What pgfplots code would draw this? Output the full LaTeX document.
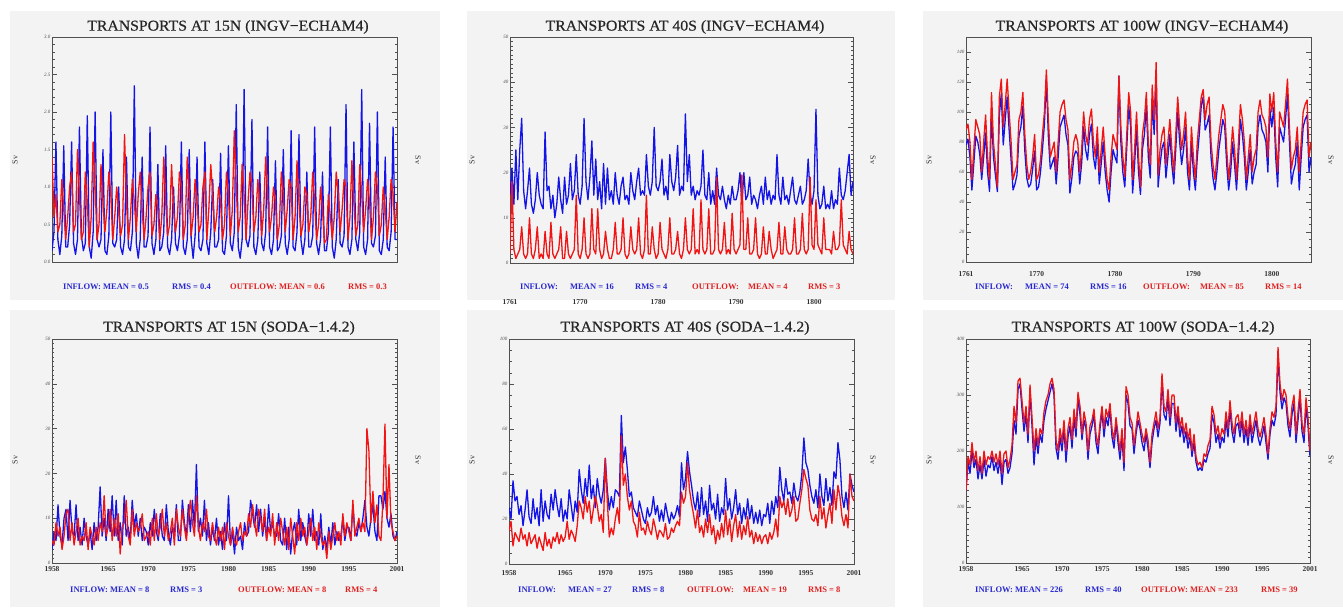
\documentclass[border=0pt]{standalone}
\usepackage{fontspec}
\setmainfont{Liberation Serif}
\newfontfamily\titlefont[FakeStretch=1.05,FakeBold=0.5]{Liberation Serif}
\usepackage{pgfplots}
\usepackage{pgfplotstable}
\pgfplotsset{compat=1.18}
\definecolor{bgc}{HTML}{F3F3F3}
\definecolor{inb}{HTML}{1414E6}
\definecolor{outr}{HTML}{F01414}
\definecolor{labb}{HTML}{2828D0}
\definecolor{labr}{HTML}{E02020}
\definecolor{axframe}{HTML}{505050}

\pgfplotsset{
 panel/.style={
  scale only axis, width=345bp, height=225bp, anchor=south west,
  axis line style={draw=axframe, line width=0.6bp},
  tick align=inside, ytick pos=both,
  major tick length=5bp, minor tick length=2.5bp,
  every tick/.style={axframe, line width=0.4bp},
  every x tick/.style={draw=none},
  yticklabel style={font=\fontsize{5}{5}\selectfont\itshape, text=black!70, inner sep=1.5bp},
  xticklabel style={font=\fontsize{7.5}{7.5}\selectfont\bfseries, text=black!80},
  scaled ticks=false,
  clip=true,
 },
 inl/.style={inb, line width=1.3bp, line join=round, no markers},
 outl/.style={outr, line width=1.3bp, line join=round, no markers},
}

% ---------- data: b = inflow, r = outflow, 4 values per year ----------
\pgfplotstableread[row sep=\\]{b r\\
0.15 1.4\\ 0.4 0.6\\ 1.6 0.9\\ 0.3 0.4\\
0.1 0.5\\ 0.35 1.1\\ 1.55 0.7\\ 0.2 0.3\\
0.2 0.6\\ 0.5 1.0\\ 1.6 1.2\\ 0.25 0.4\\
0.1 0.5\\ 0.3 1.5\\ 1.8 0.9\\ 0.35 0.3\\
0.15 0.4\\ 0.25 1.2\\ 1.95 0.8\\ 0.2 0.2\\
0.05 0.6\\ 0.4 1.6\\ 2.0 1.0\\ 0.3 0.3\\
0.2 0.5\\ 0.3 1.3\\ 1.5 0.8\\ 0.15 0.4\\
0.1 0.7\\ 0.35 1.2\\ 2.0 0.9\\ 0.25 0.3\\
0.2 0.6\\ 0.3 1.0\\ 1.0 0.7\\ 0.2 0.35\\
0.1 0.5\\ 0.3 1.7\\ 1.4 0.8\\ 0.2 0.3\\
0.15 0.6\\ 0.4 1.1\\ 2.35 0.8\\ 0.25 0.4\\
0.05 0.9\\ 0.3 1.2\\ 1.4 0.7\\ 0.2 0.3\\
0.2 0.6\\ 0.35 1.0\\ 1.8 1.2\\ 0.25 0.35\\
0.1 0.5\\ 0.3 0.9\\ 1.3 0.7\\ 0.15 0.3\\
0.2 0.6\\ 0.4 1.4\\ 1.55 0.8\\ 0.2 0.35\\
0.1 0.5\\ 0.3 1.3\\ 1.0 0.7\\ 0.25 0.4\\
0.15 0.6\\ 0.35 1.2\\ 1.6 1.0\\ 0.2 0.3\\
0.1 0.5\\ 0.3 1.4\\ 1.5 0.9\\ 0.3 0.35\\
0.05 0.6\\ 0.35 1.1\\ 1.4 0.8\\ 0.2 0.4\\
0.15 0.5\\ 0.3 1.0\\ 1.6 1.2\\ 0.25 0.3\\
0.1 0.7\\ 0.4 1.3\\ 1.1 0.9\\ 0.2 0.4\\
0.2 0.6\\ 0.3 1.0\\ 1.45 0.8\\ 0.15 0.3\\
0.1 0.5\\ 0.35 1.2\\ 1.55 0.9\\ 0.25 0.35\\
0.15 0.7\\ 0.4 1.75\\ 2.1 1.0\\ 0.2 0.4\\
0.05 0.6\\ 0.3 1.3\\ 2.3 0.9\\ 0.3 0.3\\
0.2 0.8\\ 0.35 1.2\\ 1.9 1.0\\ 0.2 0.4\\
0.1 0.6\\ 0.3 1.1\\ 1.2 0.8\\ 0.25 0.35\\
0.15 0.7\\ 0.4 1.4\\ 1.8 0.9\\ 0.2 0.4\\
0.1 0.6\\ 0.3 1.0\\ 1.35 0.8\\ 0.15 0.3\\
0.2 0.5\\ 0.35 1.2\\ 1.5 0.9\\ 0.25 0.4\\
0.1 0.7\\ 0.3 1.1\\ 1.75 1.0\\ 0.2 0.3\\
0.15 0.6\\ 0.4 1.35\\ 1.7 0.8\\ 0.3 0.35\\
0.1 0.5\\ 0.3 1.0\\ 1.2 0.9\\ 0.2 0.4\\
0.2 0.6\\ 0.35 1.2\\ 1.8 0.8\\ 0.25 0.3\\
0.1 0.5\\ 0.3 1.0\\ 1.2 0.7\\ 0.15 0.25\\
0.15 0.3\\ 0.4 0.9\\ 1.8 0.6\\ 0.2 0.3\\
0.05 0.6\\ 0.3 1.2\\ 1.1 0.9\\ 0.25 0.4\\
0.2 0.7\\ 0.35 1.1\\ 2.1 1.0\\ 0.2 0.3\\
0.1 0.6\\ 0.3 1.35\\ 1.6 0.8\\ 0.3 0.35\\
0.15 0.5\\ 0.4 1.3\\ 2.3 0.9\\ 0.2 0.4\\
0.1 0.7\\ 0.3 1.1\\ 1.85 0.8\\ 0.25 0.3\\
0.2 0.6\\ 0.35 1.2\\ 2.0 1.0\\ 0.15 0.35\\
0.1 0.5\\ 0.3 1.0\\ 1.4 0.7\\ 0.2 0.3\\
0.15 0.6\\ 0.4 1.1\\ 1.8 0.9\\ 0.3 0.4\\
0.3 0.8\\
}\tA

\pgfplotstableread[row sep=\\]{b r\\
15 2\\ 21 18\\ 13 3\\ 25 1\\
14 2\\ 25 3\\ 32 8\\ 16 2\\
12 1\\ 16 2\\ 21 10\\ 13 2\\
11 1\\ 14 3\\ 20 8\\ 15 1\\
13 2\\ 12 1\\ 29 7\\ 16 2\\
17 1\\ 12 9\\ 15 2\\ 10 1\\
13 2\\ 19 3\\ 14 8\\ 11 1\\
19 1\\ 13 7\\ 15 2\\ 22 1\\
14 2\\ 16 3\\ 24 15\\ 15 2\\
13 1\\ 17 3\\ 32 10\\ 18 2\\
14 1\\ 19 2\\ 27 12\\ 15 3\\
23 2\\ 14 12\\ 18 3\\ 12 1\\
22 2\\ 13 7\\ 21 3\\ 14 1\\
16 1\\ 13 3\\ 20 9\\ 15 2\\
13 2\\ 17 3\\ 19 10\\ 14 2\\
15 1\\ 13 2\\ 20 8\\ 16 3\\
14 2\\ 18 3\\ 21 10\\ 15 2\\
16 1\\ 15 3\\ 24 15\\ 17 2\\
15 2\\ 18 8\\ 30 3\\ 17 1\\
16 2\\ 18 9\\ 23 3\\ 15 2\\
17 1\\ 14 3\\ 24 10\\ 18 2\\
16 2\\ 19 3\\ 26 7\\ 15 2\\
17 1\\ 16 3\\ 33 10\\ 18 3\\
24 2\\ 15 3\\ 17 12\\ 14 2\\
16 3\\ 15 2\\ 17 14\\ 25 3\\
15 2\\ 14 3\\ 20 12\\ 13 2\\
16 2\\ 13 3\\ 21 19\\ 15 3\\
14 2\\ 17 3\\ 14 9\\ 12 2\\
15 3\\ 13 2\\ 17 11\\ 14 3\\
14 2\\ 16 3\\ 20 4\\ 13 19.5\\
20 3\\ 14 3\\ 15 10\\ 19 2\\
13 2\\ 15 3\\ 14 10\\ 12 2\\
15 1\\ 17 2\\ 13 8\\ 19 2\\
14 2\\ 16 7\\ 13 3\\ 15 1\\
14 2\\ 24 3\\ 15 9\\ 13 2\\
19 2\\ 14 8\\ 15 3\\ 13 2\\
16 2\\ 19 3\\ 14 10\\ 13 2\\
15 2\\ 17 3\\ 13 11\\ 14 3\\
16 2\\ 23 3\\ 15 19\\ 13 4\\
16 3\\ 34 14\\ 15 4\\ 12 3\\
13 2\\ 17 10\\ 12 3\\ 13 3\\
12 3\\ 16 2\\ 12 7\\ 14 3\\
13 3\\ 21 4\\ 15 14\\ 14 4\\
16 3\\ 20 2\\ 24 7\\ 15 3\\
18 2\\
}\tB

\pgfplotstableread[row sep=\\]{b r\\
78 88\\ 82 92\\ 70 80\\ 48 55\\
66 75\\ 84 95\\ 80 90\\ 72 85\\
55 60\\ 70 80\\ 86 98\\ 60 70\\
47 55\\ 100 113\\ 70 80\\ 58 65\\
47 50\\ 98 110\\ 112 122\\ 78 90\\
95 105\\ 110 122\\ 88 100\\ 68 80\\
48 55\\ 52 60\\ 58 65\\ 84 95\\
90 100\\ 104 113\\ 74 85\\ 56 65\\
50 55\\ 52 60\\ 62 70\\ 74 85\\
48 55\\ 50 58\\ 60 68\\ 75 85\\
92 100\\ 122 128\\ 84 95\\ 62 70\\
66 75\\ 70 80\\ 52 60\\ 70 80\\
90 100\\ 94 105\\ 98 108\\ 85 95\\
78 88\\ 46 55\\ 56 65\\ 70 80\\
74 85\\ 72 80\\ 52 60\\ 66 75\\
90 100\\ 75 85\\ 68 78\\ 85 95\\
92 102\\ 70 80\\ 62 70\\ 80 90\\
52 60\\ 66 75\\ 80 90\\ 60 70\\
48 55\\ 40 48\\ 60 70\\ 75 85\\
70 80\\ 66 75\\ 124 124\\ 80 90\\
60 70\\ 50 57\\ 76 85\\ 104 113\\
90 100\\ 46 55\\ 65 75\\ 90 100\\
60 70\\ 45 50\\ 75 85\\ 85 95\\
104 113\\ 70 80\\ 56 65\\ 108 118\\
85 95\\ 125 133\\ 50 58\\ 65 75\\
76 85\\ 80 90\\ 56 65\\ 70 80\\
85 95\\ 65 75\\ 52 60\\ 75 85\\
100 110\\ 80 90\\ 65 75\\ 75 85\\
90 100\\ 60 70\\ 48 55\\ 80 90\\
60 70\\ 48 55\\ 70 80\\ 85 95\\
104 110\\ 110 115\\ 88 95\\ 92 105\\
98 110\\ 70 80\\ 56 65\\ 48 55\\
60 70\\ 75 85\\ 85 95\\ 95 105\\
90 100\\ 65 75\\ 48 55\\ 60 70\\
80 90\\ 65 75\\ 48 55\\ 70 80\\
95 105\\ 85 95\\ 70 80\\ 48 55\\
60 70\\ 75 85\\ 52 60\\ 60 70\\
65 75\\ 90 100\\ 98 108\\ 88 98\\
85 95\\ 80 90\\ 60 70\\ 102 112\\
90 100\\ 103 113\\ 70 80\\ 50 60\\
90 100\\ 85 95\\ 80 90\\ 95 105\\
112 122\\ 80 90\\ 52 62\\ 60 70\\
65 75\\ 80 90\\ 48 60\\ 70 80\\
90 100\\ 95 105\\ 98 108\\ 60 70\\
70 80\\
}\tC

\pgfplotstableread[row sep=\\]{b r\\
3 5\\ 7 4\\ 5 9\\ 13 6\\
6 8\\ 4 3\\ 10 6\\ 12 11\\
5 12\\ 14 5\\ 7 9\\ 6 4\\
13 7\\ 5 10\\ 8 4\\ 4 6\\
10 5\\ 6 9\\ 4 3\\ 7 8\\
3 6\\ 9 4\\ 5 8\\ 8 5\\
17 9\\ 6 7\\ 10 15\\ 5 6\\
12 8\\ 7 12\\ 15 5\\ 6 10\\
14 6\\ 5 11\\ 9 2\\ 4 8\\
15 9\\ 6 14\\ 8 6\\ 5 4\\
14 12\\ 8 6\\ 11 9\\ 6 7\\
10 8\\ 5 11\\ 8 5\\ 7 6\\
4 7\\ 9 4\\ 6 10\\ 12 5\\
7 11\\ 5 6\\ 11 8\\ 6 12\\
5 6\\ 13 9\\ 7 5\\ 4 7\\
8 10\\ 6 4\\ 13 12\\ 5 8\\
5 6\\ 14 12\\ 9 8\\ 6 5\\
13 10\\ 7 14\\ 14 9\\ 8 6\\
22 15\\ 7 8\\ 10 5\\ 6 9\\
14 7\\ 5 12\\ 9 6\\ 4 5\\
8 9\\ 5 6\\ 10 4\\ 4 8\\
7 5\\ 3 8\\ 9 3\\ 5 9\\
15 6\\ 4 4\\ 7 8\\ 2 5\\
8 4\\ 5 7\\ 6 9\\ 3 5\\
9 7\\ 6 6\\ 7 11\\ 14 8\\
11 13\\ 8 9\\ 13 6\\ 7 12\\
12 10\\ 6 7\\ 10 12\\ 5 5\\
13 8\\ 7 6\\ 9 11\\ 6 4\\
6 9\\ 11 5\\ 5 10\\ 4 7\\
10 4\\ 3 8\\ 8 3\\ 2 10\\
7 6\\ 9 2\\ 4 9\\ 12 5\\
5 10\\ 9 6\\ 6 8\\ 4 4\\
11 7\\ 6 10\\ 12 5\\ 5 8\\
7 3\\ 4 9\\ 11 6\\ 3 4\\
6 5\\ 3 1\\ 8 7\\ 4 3\\
9 6\\ 4 9\\ 7 5\\ 5 7\\
6 4\\ 10 11\\ 5 6\\ 8 9\\
8 7\\ 5 5\\ 13 14\\ 7 6\\
6 8\\ 9 10\\ 7 7\\ 10 9\\
14 7\\ 8 30\\ 6 25\\ 10 9\\
13 16\\ 7 9\\ 5 13\\ 15 6\\
15 5\\ 12 14\\ 16 31\\ 10 10\\
8 22\\ 11 9\\ 6 7\\ 5 5\\
7 6\\
}\tD

\pgfplotstableread[row sep=\\]{b r\\
25 15\\ 20 19\\ 37 8\\ 28 14\\
30 12\\ 22 10\\ 26 16\\ 17 11\\
24 13\\ 33 8\\ 21 14\\ 18 9\\
29 11\\ 20 13\\ 25 7\\ 17 12\\
33 9\\ 19 6\\ 28 14\\ 22 8\\
20 11\\ 31 7\\ 24 12\\ 33 10\\
26 14\\ 21 9\\ 29 13\\ 19 10\\
24 12\\ 20 19\\ 33 11\\ 26 15\\
19 13\\ 28 10\\ 23 17\\ 42 28\\
33 25\\ 27 20\\ 38 30\\ 30 23\\
44 28\\ 29 18\\ 35 24\\ 25 30\\
38 26\\ 31 19\\ 27 22\\ 33 14\\
47 47\\ 33 28\\ 24 12\\ 30 16\\
25 13\\ 33 20\\ 32 25\\ 30 18\\
66 57\\ 45 35\\ 52 40\\ 42 30\\
30 24\\ 32 28\\ 25 19\\ 23 17\\
21 12\\ 28 23\\ 24 15\\ 20 16\\
18 13\\ 25 19\\ 21 15\\ 23 13\\
30 20\\ 22 16\\ 26 11\\ 19 15\\
24 14\\ 19 12\\ 27 18\\ 22 11\\
18 12\\ 23 16\\ 20 14\\ 22 17\\
26 19\\ 21 17\\ 45 32\\ 33 27\\
38 30\\ 50 45\\ 41 33\\ 35 27\\
28 22\\ 24 16\\ 32 24\\ 21 14\\
34 17\\ 22 12\\ 28 20\\ 19 14\\
35 22\\ 24 13\\ 27 17\\ 20 9\\
31 15\\ 19 11\\ 25 18\\ 22 12\\
38 24\\ 24 13\\ 29 20\\ 20 10\\
25 17\\ 33 22\\ 22 12\\ 27 19\\
18 11\\ 25 17\\ 20 13\\ 29 21\\
20 12\\ 26 15\\ 18 9\\ 23 14\\
18 10\\ 24 13\\ 17 9\\ 22 12\\
21 13\\ 27 9\\ 18 14\\ 28 11\\
22 14\\ 30 20\\ 25 12\\ 43 30\\
33 25\\ 28 28\\ 38 22\\ 31 29\\
32 21\\ 27 24\\ 36 30\\ 30 19\\
28 20\\ 32 27\\ 40 33\\ 56 42\\
45 38\\ 42 35\\ 35 24\\ 30 20\\
27 19\\ 33 22\\ 25 17\\ 40 30\\
30 20\\ 26 25\\ 38 16\\ 28 22\\
34 27\\ 26 18\\ 41 33\\ 38 24\\
54 35\\ 46 30\\ 30 21\\ 25 17\\
32 22\\ 24 16\\ 40 40\\ 35 30\\
32 28\\
}\tE

\pgfplotstableread[row sep=\\]{b r\\
130 130\\ 180 190\\ 160 175\\ 200 215\\
170 180\\ 185 200\\ 150 165\\ 175 190\\
150 160\\ 185 200\\ 155 175\\ 175 190\\
170 185\\ 190 200\\ 165 180\\ 180 195\\
160 175\\ 185 200\\ 140 160\\ 180 195\\
185 200\\ 160 170\\ 170 185\\ 195 210\\
255 280\\ 230 250\\ 310 325\\ 320 330\\
275 290\\ 235 250\\ 265 280\\ 215 230\\
305 318\\ 245 260\\ 175 200\\ 225 240\\
195 210\\ 230 240\\ 215 230\\ 255 270\\
275 290\\ 290 300\\ 305 320\\ 320 330\\
300 310\\ 205 220\\ 185 200\\ 225 240\\
200 215\\ 240 255\\ 180 200\\ 225 240\\
245 260\\ 205 220\\ 260 275\\ 225 240\\
295 305\\ 265 280\\ 220 230\\ 255 270\\
240 250\\ 185 200\\ 230 245\\ 245 255\\
265 275\\ 215 230\\ 195 210\\ 240 250\\
270 280\\ 225 240\\ 260 275\\ 245 260\\
275 285\\ 225 240\\ 205 220\\ 250 260\\
215 230\\ 185 200\\ 225 240\\ 165 180\\
300 315\\ 285 300\\ 245 260\\ 240 250\\
195 210\\ 230 240\\ 255 270\\ 240 250\\
215 230\\ 200 215\\ 230 240\\ 205 220\\
170 180\\ 215 230\\ 240 250\\ 255 270\\
225 240\\ 250 260\\ 325 338\\ 265 280\\
255 270\\ 295 310\\ 245 260\\ 285 300\\
285 300\\ 235 250\\ 265 280\\ 225 240\\
245 260\\ 215 230\\ 235 250\\ 205 220\\
225 240\\ 190 200\\ 215 230\\ 180 190\\
165 175\\ 170 180\\ 165 170\\ 185 195\\
180 190\\ 195 210\\ 205 220\\ 265 280\\
250 265\\ 215 230\\ 230 245\\ 205 220\\
225 240\\ 215 230\\ 255 270\\ 225 240\\
275 290\\ 235 250\\ 215 230\\ 245 260\\
250 265\\ 225 240\\ 255 270\\ 215 230\\
240 255\\ 210 225\\ 250 265\\ 215 230\\
235 250\\ 255 270\\ 225 240\\ 210 225\\
225 240\\ 245 260\\ 215 230\\ 185 195\\
230 240\\ 255 270\\ 245 260\\ 265 280\\
370 385\\ 305 320\\ 275 290\\ 295 310\\
285 300\\ 245 260\\ 225 240\\ 265 280\\
285 300\\ 215 230\\ 255 270\\ 295 310\\
235 250\\ 215 230\\ 280 295\\ 245 260\\
190 200\\
}\tF

\begin{document}
\begin{tikzpicture}
\useasboundingbox (0,0) rectangle (1343bp,608bp);
% panel backgrounds
\fill[bgc] (10bp,308bp) rectangle (440bp,597bp);
\fill[bgc] (467bp,308bp) rectangle (895bp,597bp);
\fill[bgc] (923bp,308bp) rectangle (1343bp,597bp);
\fill[bgc] (10bp,1bp) rectangle (440bp,298bp);
\fill[bgc] (467bp,1bp) rectangle (895bp,298bp);
\fill[bgc] (923bp,1bp) rectangle (1343bp,298bp);

% ---- Panel 1: 15N ECHAM4
\begin{axis}[panel, at={(52bp,346bp)},
  xmin=1761, xmax=1805, ymin=0, ymax=3,
  xtick=\empty,
  ytick={0,0.5,1,1.5,2,2.5,3},
  yticklabels={0.0,0.5,1.0,1.5,2.0,2.5,3.0},
  minor y tick num=4]
\addplot[inl] table[x expr=1761+\coordindex/4, y=b]{\tA};
\addplot[outl] table[x expr=1761+\coordindex/4, y=r]{\tA};
\end{axis}

% ---- Panel 2: 40S ECHAM4
\begin{axis}[panel, at={(510bp,345bp)}, width=343bp, height=226bp,
  xmin=1761, xmax=1805, ymin=0, ymax=50,
  xtick={1761,1770,1780,1790,1800},
  xticklabels={1761,1770,1780,1790,1800},
  xticklabel style={yshift=-33bp},
  ytick={0,10,20,30,40,50},
  yticklabels={0,10,20,30,40,50},
  minor y tick num=9]
\addplot[inl] table[x expr=1761+\coordindex/4, y=b]{\tB};
\addplot[outl] table[x expr=1761+\coordindex/4, y=r]{\tB};
\end{axis}

% ---- Panel 3: 100W ECHAM4
\begin{axis}[panel, at={(966bp,346bp)},
  xmin=1761, xmax=1805, ymin=0, ymax=150,
  xtick={1761,1770,1780,1790,1800},
  xticklabels={1761,1770,1780,1790,1800},
  xticklabel style={yshift=-6bp},
  ytick={0,20,40,60,80,100,120,140},
  yticklabels={0,20,40,60,80,100,120,140},
  minor y tick num=3]
\addplot[inl] table[x expr=1761+\coordindex/4, y=b]{\tC};
\addplot[outl] table[x expr=1761+\coordindex/4, y=r]{\tC};
\end{axis}

% ---- Panel 4: 15N SODA
\begin{axis}[panel, at={(52bp,45bp)}, height=224bp,
  xmin=1958, xmax=2001, ymin=0, ymax=50,
  xtick={1958,1965,1970,1975,1980,1985,1990,1995,2001},
  xticklabels={1958,1965,1970,1975,1980,1985,1990,1995,2001},
  ytick={0,10,20,30,40,50},
  yticklabels={0,10,20,30,40,50},
  minor y tick num=9]
\addplot[inl] table[x expr=1958+\coordindex/4, y=b]{\tD};
\addplot[outl] table[x expr=1958+\coordindex/4, y=r]{\tD};
\end{axis}

% ---- Panel 5: 40S SODA
\begin{axis}[panel, at={(509bp,44bp)},
  xmin=1958, xmax=2001, ymin=0, ymax=100,
  xtick={1958,1965,1970,1975,1980,1985,1990,1995,2001},
  xticklabels={1958,1965,1970,1975,1980,1985,1990,1995,2001},
  xticklabel style={yshift=-3bp},
  ytick={0,20,40,60,80,100},
  yticklabels={0,20,40,60,80,100},
  minor y tick num=3]
\addplot[inl] table[x expr=1958+\coordindex/4, y=b]{\tE};
\addplot[outl] table[x expr=1958+\coordindex/4, y=r]{\tE};
\end{axis}

% ---- Panel 6: 100W SODA
\begin{axis}[panel, at={(966bp,45bp)}, width=344bp, height=224bp,
  xmin=1958, xmax=2001, ymin=0, ymax=400,
  xtick={1958,1965,1970,1975,1980,1985,1990,1995,2001},
  xticklabels={1958,1965,1970,1975,1980,1985,1990,1995,2001},
  ytick={0,100,200,300,400},
  yticklabels={0,100,200,300,400},
  minor y tick num=9]
\addplot[inl] table[x expr=1958+\coordindex/4, y=b]{\tF};
\addplot[outl] table[x expr=1958+\coordindex/4, y=r]{\tF};
\end{axis}

% ---- titles
\tikzset{ttl/.style={font=\titlefont\fontsize{15bp}{15bp}\selectfont, text=black!85, inner sep=0pt},
 sv/.style={font=\fontsize{8bp}{8bp}\selectfont, text=black!80, inner sep=0pt},
 lg/.style={font=\fontsize{8.5bp}{8.5bp}\selectfont\bfseries, anchor=west, inner sep=0pt}}
\node[ttl] at (228bp,581bp) {TRANSPORTS AT 15N (INGV{\textminus}ECHAM4)};
\node[ttl] at (685bp,581bp) {TRANSPORTS AT 40S (INGV{\textminus}ECHAM4)};
\node[ttl] at (1142bp,581bp) {TRANSPORTS AT 100W (INGV{\textminus}ECHAM4)};
\node[ttl] at (229bp,280bp) {TRANSPORTS AT 15N (SODA{\textminus}1.4.2)};
\node[ttl] at (685bp,280bp) {TRANSPORTS AT 40S (SODA{\textminus}1.4.2)};
\node[ttl] at (1143bp,280bp) {TRANSPORTS AT 100W (SODA{\textminus}1.4.2)};

% ---- Sv labels
\foreach \xl/\xr in {15/418, 472/873, 929/1331}{
  \node[sv, rotate=90] at (\xl bp,448bp) {Sv};
  \node[sv, rotate=-90] at (\xr bp,448bp) {Sv};
  \node[sv, rotate=90] at (\xl bp,148bp) {Sv};
  \node[sv, rotate=-90] at (\xr bp,148bp) {Sv};
}

% ---- statistics lines
\node[lg, text=labb] at (63bp,321bp) {INFLOW: MEAN = 0.5};
\node[lg, text=labb] at (172bp,321bp) {RMS = 0.4};
\node[lg, text=labr] at (230bp,321bp) {OUTFLOW: MEAN = 0.6};
\node[lg, text=labr] at (348bp,321bp) {RMS = 0.3};

\node[lg, text=labb] at (520bp,321bp) {INFLOW:};
\node[lg, text=labb] at (570bp,321bp) {MEAN = 16};
\node[lg, text=labb] at (635bp,321bp) {RMS = 4};
\node[lg, text=labr] at (692bp,321bp) {OUTFLOW:};
\node[lg, text=labr] at (748bp,321bp) {MEAN = 4};
\node[lg, text=labr] at (808bp,321bp) {RMS = 3};

\node[lg, text=labb] at (975bp,321bp) {INFLOW:};
\node[lg, text=labb] at (1025bp,321bp) {MEAN = 74};
\node[lg, text=labb] at (1090bp,321bp) {RMS = 16};
\node[lg, text=labr] at (1143bp,321bp) {OUTFLOW:};
\node[lg, text=labr] at (1200bp,321bp) {MEAN = 85};
\node[lg, text=labr] at (1265bp,321bp) {RMS = 14};

\node[lg, text=labb] at (70bp,18bp) {INFLOW: MEAN = 8};
\node[lg, text=labb] at (170bp,18bp) {RMS = 3};
\node[lg, text=labr] at (238bp,18bp) {OUTFLOW: MEAN = 8};
\node[lg, text=labr] at (345bp,18bp) {RMS = 4};

\node[lg, text=labb] at (518bp,18bp) {INFLOW:};
\node[lg, text=labb] at (568bp,18bp) {MEAN = 27};
\node[lg, text=labb] at (632bp,18bp) {RMS = 8};
\node[lg, text=labr] at (687bp,18bp) {OUTFLOW:};
\node[lg, text=labr] at (743bp,18bp) {MEAN = 19};
\node[lg, text=labr] at (808bp,18bp) {RMS = 8};

\node[lg, text=labb] at (975bp,18bp) {INFLOW: MEAN = 226};
\node[lg, text=labb] at (1085bp,18bp) {RMS = 40};
\node[lg, text=labr] at (1141bp,18bp) {OUTFLOW: MEAN = 233};
\node[lg, text=labr] at (1261bp,18bp) {RMS = 39};
\end{tikzpicture}
\end{document}
